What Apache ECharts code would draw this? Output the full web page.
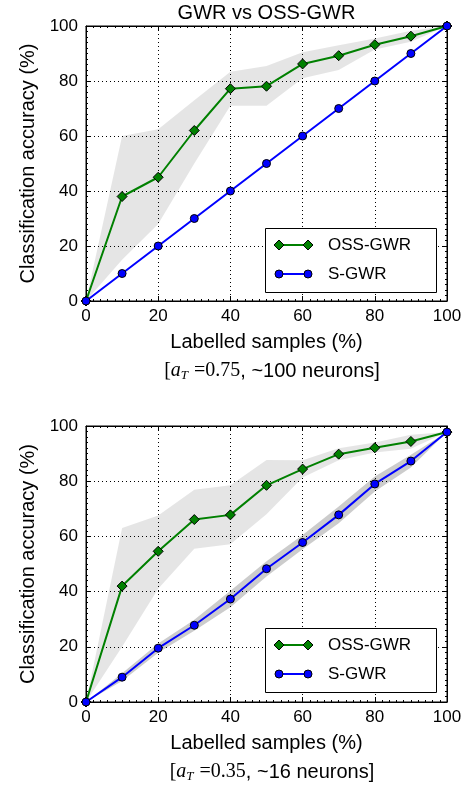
<!DOCTYPE html>
<html>
<head>
	<meta charset="utf-8">
	<title>GWR vs OSS-GWR</title>
	<script src="https://cdn.jsdelivr.net/npm/echarts@6/dist/echarts.min.js"></script>
	<style>
		html, body { margin: 0; padding: 0; background: #fff; }
		#chart { width: 467px; height: 789px; }
	</style>
</head>
<body>
<div id="chart"></div>
<script>
// 横轴：标注样本比例
var samples = [0, 10, 20, 30, 40, 50, 60, 70, 80, 90, 100];
var yTicks = [0, 20, 40, 60, 80, 100];

// 上图 a_T = 0.75
var topOss = [0, 38, 45, 62, 77.2, 78.1, 86.2, 89.2, 93.2, 96.3, 100];
var topOssLo = [0, 15, 28, 50, 71, 71, 81, 84, 91.5, 94.3, 100];
var topOssHi = [0, 60, 62.5, 73, 83.4, 85.5, 90.5, 93, 95.5, 98.3, 100];
var topS = [0, 10, 20, 30, 40, 50, 60, 70, 80, 90, 100];

// 下图 a_T = 0.35
var botOss = [0, 42, 54.6, 66.1, 67.8, 78.5, 84.4, 89.8, 92.1, 94.4, 97.8];
var botOssLo = [0, 20, 41, 55.5, 57.2, 68, 81.3, 87.6, 90.4, 91.8, 97.8];
var botOssHi = [0, 63, 67.6, 76.9, 78.5, 87.7, 87.6, 91.9, 94, 96.8, 97.8];
var botS = [0, 9, 19.5, 27.8, 37.3, 48.3, 57.8, 67.8, 79, 87.3, 97.8];
var botSLo = [0, 7.6, 17.8, 25.8, 34.3, 45.5, 55.3, 64.8, 76.3, 85, 97.8];
var botSHi = [0, 10.4, 21.2, 29.8, 40.3, 51, 60.5, 70.8, 81.7, 89.6, 97.8];

var SANS = 'Liberation Sans';
var SERIF = 'Liberation Serif';
var GREEN = '#008000';
var BLUE = '#0000ff';

function pairs(ys) {
	var out = [];
	for (var i = 0; i < samples.length; i++) out.push([samples[i], ys[i]]);
	return out;
}

// 阴影区间：用坐标轴换算上下边界
function band(lo, hi, xi, fill) {
	return {
		type: 'custom',
		xAxisIndex: xi, yAxisIndex: xi,
		silent: true,
		clip: true,
		z: 1,
		data: [[0, 0]],
		renderItem: function (params, api) {
			var pts = [];
			for (var i = 0; i < samples.length; i++) pts.push(api.coord([samples[i], hi[i]]));
			for (var j = samples.length - 1; j >= 0; j--) pts.push(api.coord([samples[j], lo[j]]));
			return { type: 'polygon', shape: { points: pts }, style: { fill: fill } };
		}
	};
}

function line(ys, xi, color, symbol, size) {
	return {
		type: 'line',
		xAxisIndex: xi, yAxisIndex: xi,
		data: pairs(ys),
		symbol: symbol,
		symbolSize: size,
		showAllSymbol: true,
		z: 3,
		lineStyle: { color: color, width: 2 },
		itemStyle: { color: color, borderColor: '#000', borderWidth: 1 },
		animation: false
	};
}

function xAx(grid, pos) {
	var main = pos === 'bottom';
	return {
		type: 'value', gridIndex: grid, position: pos,
		min: 0, max: 100, interval: 20,
		name: main ? 'Labelled samples (%)' : '',
		nameLocation: 'middle', nameGap: 31,
		nameTextStyle: { fontFamily: SANS, fontSize: 20, color: '#000' },
		axisLine: { show: true, onZero: false, lineStyle: { color: '#000', width: 1 } },
		axisTick: { show: true, inside: true, length: 5, lineStyle: { color: '#000' } },
		minorTick: { show: true, splitNumber: 10, length: 2, lineStyle: { color: '#000' } },
		axisLabel: { show: main, margin: 7, fontFamily: SANS, fontSize: 17, color: '#000' },
		splitLine: { show: main, lineStyle: { color: '#000', width: 1, type: [1, 3] } }
	};
}

function yAx(grid, pos) {
	var main = pos === 'left';
	return {
		type: 'value', gridIndex: grid, position: pos,
		min: 0, max: 100, interval: 20,
		name: main ? 'Classification accuracy (%)' : '',
		nameLocation: 'middle', nameGap: 43, nameRotate: 90,
		nameTextStyle: { fontFamily: SANS, fontSize: 20, color: '#000' },
		axisLine: { show: true, onZero: false, lineStyle: { color: '#000', width: 1 } },
		axisTick: { show: true, inside: true, length: 5, lineStyle: { color: '#000' } },
		minorTick: { show: true, splitNumber: 10, length: 2, lineStyle: { color: '#000' } },
		axisLabel: { show: main, margin: 8, fontFamily: SANS, fontSize: 17, color: '#000' },
		splitLine: { show: main, lineStyle: { color: '#000', width: 1, type: [1, 3] } }
	};
}

// 手绘图例框
function legend(top) {
	var r1 = top + 17, r2 = top + 46;
	var x1 = 279, x2 = 308;
	function diamond(cx, cy) {
		return { type: 'polygon', z: 20, shape: { points: [[cx, cy - 5], [cx + 5, cy], [cx, cy + 5], [cx - 5, cy]] },
			style: { fill: GREEN, stroke: '#000', lineWidth: 1 } };
	}
	function dot(cx, cy) {
		return { type: 'circle', z: 20, shape: { cx: cx, cy: cy, r: 4 }, style: { fill: BLUE, stroke: '#000', lineWidth: 1 } };
	}
	return [
		{ type: 'rect', z: 18, shape: { x: 265.5, y: top + 0.5, width: 171, height: 64 }, style: { fill: '#fff', stroke: '#000', lineWidth: 1 } },
		{ type: 'line', z: 19, shape: { x1: x1, y1: r1, x2: x2, y2: r1 }, style: { stroke: GREEN, lineWidth: 2 } },
		diamond(x1, r1), diamond(x2, r1),
		{ type: 'text', z: 20, x: 328, y: r1, style: { text: 'OSS-GWR', font: '17px "' + SANS + '"', fill: '#000', verticalAlign: 'middle' } },
		{ type: 'line', z: 19, shape: { x1: x1, y1: r2, x2: x2, y2: r2 }, style: { stroke: BLUE, lineWidth: 2 } },
		dot(x1, r2), dot(x2, r2),
		{ type: 'text', z: 20, x: 328, y: r2, style: { text: 'S-GWR', font: '17px "' + SANS + '"', fill: '#000', verticalAlign: 'middle' } }
	];
}

function caption(y, val, neurons) {
	return {
		type: 'text', z: 20, x: 272, y: y,
		style: {
			text: '{s|[}{i|a}{sub|T}{s| =' + val + '}{t|, ~' + neurons + ' neurons]}',
			align: 'center', verticalAlign: 'middle',
			rich: {
				s: { fontFamily: SERIF, fontSize: 20, color: '#000', lineHeight: 24 },
				i: { fontFamily: SERIF, fontStyle: 'italic', fontSize: 20, color: '#000', lineHeight: 24 },
				sub: { fontFamily: SERIF, fontStyle: 'italic', fontSize: 13, color: '#000', lineHeight: 24, padding: [10, 1, 0, 0] },
				t: { fontFamily: SANS, fontSize: 20, color: '#000', lineHeight: 24 }
			}
		}
	};
}

var chart = echarts.init(document.getElementById('chart'));
var option = {
	backgroundColor: '#fff',
	animation: false,
	grid: [
		{ left: 86, top: 26, width: 361, height: 275, show: true, borderColor: '#000', borderWidth: 1, backgroundColor: 'transparent' },
		{ left: 86, top: 426, width: 361, height: 276, show: true, borderColor: '#000', borderWidth: 1, backgroundColor: 'transparent' }
	],
	xAxis: [xAx(0, 'bottom'), xAx(1, 'bottom'), xAx(0, 'top'), xAx(1, 'top')],
	yAxis: [yAx(0, 'left'), yAx(1, 'left'), yAx(0, 'right'), yAx(1, 'right')],
	series: [
		band(topOssLo, topOssHi, 0, 'rgba(0,0,0,0.1)'),
		line(topOss, 0, GREEN, 'diamond', 10),
		line(topS, 0, BLUE, 'circle', 8),
		band(botOssLo, botOssHi, 1, 'rgba(0,0,0,0.1)'),
		band(botSLo, botSHi, 1, 'rgba(0,0,0,0.2)'),
		line(botOss, 1, GREEN, 'diamond', 10),
		line(botS, 1, BLUE, 'circle', 8)
	],
	graphic: [
		{ type: 'text', z: 20, x: 266.5, y: 13, style: { text: 'GWR vs OSS-GWR', font: '20px "' + SANS + '"', fill: '#000', align: 'center', verticalAlign: 'middle' } },
		caption(371, '0.75', '100'),
		caption(772, '0.35', '16')
	].concat(legend(228)).concat(legend(628))
};
chart.setOption(option);
</script>
</body>
</html>
